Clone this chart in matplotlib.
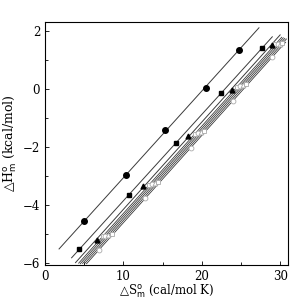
import numpy as np
import matplotlib.pyplot as plt
from matplotlib.ticker import MultipleLocator

# entropy (cal/mol K) and enthalpy (kcal/mol)
s_circle = [5.0, 10.4, 15.3, 20.6, 24.7]
h_circle = [-4.55, -2.95, -1.42, 0.05, 1.35]

s_square = [4.4, 10.7, 16.7, 22.5, 27.7]
h_square = [-5.5, -3.65, -1.85, -0.15, 1.42]

s_tri = [6.6, 12.5, 18.3, 23.8, 28.9]
h_tri = [-5.2, -3.35, -1.62, -0.02, 1.52]

# open-symbol series crowded in the lower bundle
s_open = [
    [7.4, 13.3, 19.1, 24.5, 29.4],
    [7.7, 13.6, 19.5, 24.9, 29.7],
    [8.1, 14.0, 19.9, 25.3, 30.0],
    [8.5, 14.4, 20.3, 25.6, 30.3],
    [6.9, 12.8, 18.6, 24.0, 29.0],
]
h_open = [
    [-5.06, -3.29, -1.55, 0.07, 1.54],
    [-5.05, -3.28, -1.51, 0.11, 1.55],
    [-5.01, -3.24, -1.47, 0.15, 1.56],
    [-4.97, -3.20, -1.43, 0.16, 1.57],
    [-5.53, -3.76, -2.02, -0.40, 1.10],
]
open_markers = ['s', 'o', '^', 's', 'o']

# extent of each fitted line along the x axis
line_lo = [1.8, 3.4, 3.9, 4.3, 4.5, 4.8, 5.1, 5.3]
line_hi = [27.3, 29.0, 30.0, 30.2, 30.4, 30.6, 30.8, 30.7]

plt.rcParams['font.family'] = ['DejaVu Serif', 'DejaVu Sans']

fig = plt.figure(figsize=(2.9, 2.99), dpi=100)
ax = fig.add_axes([0.155, 0.114, 0.838, 0.812])

series = [(s_circle, h_circle), (s_square, h_square), (s_tri, h_tri)] + list(zip(s_open, h_open))
for i, (s, h) in enumerate(series):
    k, b = np.polyfit(s, h, 1)
    xs = np.array([line_lo[i], line_hi[i]])
    ax.plot(xs, k * xs + b, color='#3a3a3a', lw=0.7 if i < 3 else 0.6, zorder=1)

ax.plot(s_circle, h_circle, 'o', color='black', ms=4, zorder=3)
ax.plot(s_square, h_square, 's', color='black', ms=3.3, zorder=3)
ax.plot(s_tri, h_tri, '^', color='black', ms=3.5, zorder=3)
for s, h, m in zip(s_open, h_open, open_markers):
    ax.plot(s, h, m, mfc='white', mec='#aaaaaa', mew=0.6, ms=3.5, zorder=2)

ax.set_xlim(0, 31)
ax.set_ylim(-6.05, 2.3)
ax.xaxis.set_major_locator(MultipleLocator(10))
ax.xaxis.set_minor_locator(MultipleLocator(5))
ax.yaxis.set_major_locator(MultipleLocator(2))
ax.yaxis.set_minor_locator(MultipleLocator(1))
ax.tick_params(which='both', direction='in', labelsize=8.5, width=0.6)
ax.tick_params(which='major', length=3)
ax.tick_params(which='minor', length=2)
for sp in ax.spines.values():
    sp.set_linewidth(0.8)

ax.set_xlabel('△S$^{\\rm o}_{\\rm m}$ (cal/mol K)', fontsize=8.5, labelpad=0)
ax.set_ylabel('△H$^{\\rm o}_{\\rm m}$ (kcal/mol)', fontsize=9, labelpad=3)

fig.savefig('out.png', dpi=100)
